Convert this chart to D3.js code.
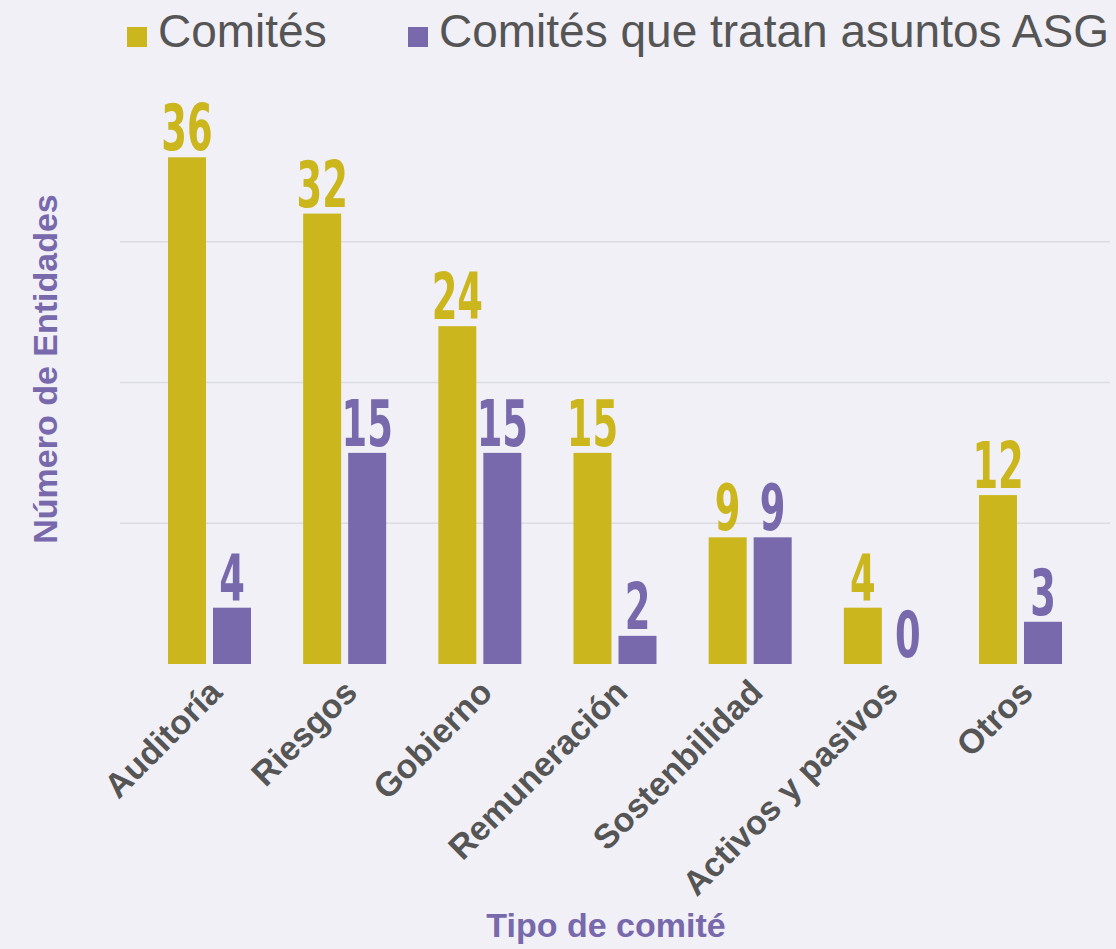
<!DOCTYPE html>
<html>
<head>
<meta charset="utf-8">
<script src="https://cdn.jsdelivr.net/npm/d3@7"></script>
<style>
  body { margin: 0; background: #f1f0f7; }
  svg { display: block; }
</style>
</head>
<body>
<div id="chart"></div>
<script>
// data
var categories = ["Auditoría", "Riesgos", "Gobierno", "Remuneración", "Sostenbilidad", "Activos y pasivos", "Otros"];
var seriesNames = ["Comités", "Comités que tratan asuntos ASG"];
var comites = [36, 32, 24, 15, 9, 4, 12];
var comitesASG = [4, 15, 15, 2, 9, 0, 3];
var gridValues = [10, 20, 30];

var colors = ["#cbb61d", "#7868ac"];

var svgWidth = 1116,
    svgHeight = 949,
    margin = {top: 101, bottom: 285, left: 120, right: 6};

var plotW = svgWidth - margin.left - margin.right,
    plotH = svgHeight - margin.top - margin.bottom;

// one row per category, values per series
var rows = categories.map(function(c, i) {
  return {cat: c, vals: [comites[i], comitesASG[i]]};
});

var svg = d3.select("#chart")
  .append("svg")
  .attr("width", svgWidth)
  .attr("height", svgHeight);

svg.append("rect")
  .attr("width", svgWidth)
  .attr("height", svgHeight)
  .attr("fill", "#f1f0f7");

var g = svg.append("g")
  .attr("transform", "translate(" + margin.left + "," + margin.top + ")");

var xScale = d3.scaleBand()
  .domain(categories)
  .range([0, plotW])
  .paddingInner(0.386)
  .paddingOuter(0.355);

var xInner = d3.scaleBand()
  .domain([0, 1])
  .range([0, xScale.bandwidth()])
  .paddingInner(0.156);

var yScale = d3.scaleLinear()
  .domain([0, 40])
  .range([plotH, 0]);

// gridlines
g.selectAll("line.grid")
  .data(gridValues)
  .enter().append("line")
  .attr("class", "grid")
  .attr("x1", 0)
  .attr("x2", plotW)
  .attr("y1", function(d) { return yScale(d); })
  .attr("y2", function(d) { return yScale(d); })
  .attr("stroke", "#dcdbe2")
  .attr("stroke-width", 1.5);

var groups = g.selectAll("g.cat")
  .data(rows)
  .enter().append("g")
  .attr("class", "cat")
  .attr("transform", function(d) { return "translate(" + xScale(d.cat) + ",0)"; });

var bars = groups.selectAll("g.bar")
  .data(function(d) { return d.vals.map(function(v, k) { return {k: k, v: v}; }); })
  .enter().append("g")
  .attr("class", "bar");

bars.append("rect")
  .attr("x", function(d) { return xInner(d.k); })
  .attr("width", xInner.bandwidth())
  .attr("y", function(d) { return yScale(d.v); })
  .attr("height", function(d) { return plotH - yScale(d.v); })
  .attr("fill", function(d) { return colors[d.k]; });

// value labels, squeezed to look like a condensed face
bars.append("text")
  .attr("transform", function(d) {
    return "translate(" + (xInner(d.k) + xInner.bandwidth() / 2) + "," + (yScale(d.v) - 7) + ") scale(0.64,1)";
  })
  .attr("text-anchor", "middle")
  .style("font-family", "'DejaVu Sans Condensed', 'DejaVu Sans', sans-serif")
  .style("font-weight", "bold")
  .style("font-size", "64px")
  .attr("fill", function(d) { return colors[d.k]; })
  .text(function(d) { return d.v; });

// category labels
g.selectAll("text.cat")
  .data(categories)
  .enter().append("text")
  .attr("class", "cat")
  .attr("transform", function(d) {
    return "translate(" + (xScale(d) + xScale.bandwidth() / 2 + 6) + "," + (plotH + 22) + ") rotate(-45)";
  })
  .attr("text-anchor", "end")
  .attr("dy", "0.35em")
  .style("font-family", "'Liberation Sans', Arial, sans-serif")
  .style("font-weight", "bold")
  .style("font-size", "34px")
  .attr("fill", "#555555")
  .text(function(d) { return d; });

// axis titles
svg.append("text")
  .attr("transform", "translate(57,369) rotate(-90)")
  .attr("text-anchor", "middle")
  .style("font-family", "'Liberation Sans', Arial, sans-serif")
  .style("font-weight", "bold")
  .style("font-size", "34px")
  .attr("fill", "#7868ac")
  .text("Número de Entidades");

svg.append("text")
  .attr("x", 606)
  .attr("y", 937)
  .attr("text-anchor", "middle")
  .style("font-family", "'Liberation Sans', Arial, sans-serif")
  .style("font-weight", "bold")
  .style("font-size", "34px")
  .attr("fill", "#7868ac")
  .text("Tipo de comité");

// legend
var legendX = [127, 408];
var legend = svg.selectAll("g.legend")
  .data(seriesNames)
  .enter().append("g")
  .attr("class", "legend")
  .attr("transform", function(d, i) { return "translate(" + legendX[i] + ",0)"; });

legend.append("rect")
  .attr("x", 0)
  .attr("y", 27)
  .attr("width", 20)
  .attr("height", 20)
  .attr("fill", function(d, i) { return colors[i]; });

legend.append("text")
  .attr("x", 31)
  .attr("y", 47)
  .style("font-family", "'Liberation Sans', Arial, sans-serif")
  .style("font-size", "46px")
  .attr("fill", "#555555")
  .text(function(d) { return d; });
</script>
</body>
</html>
